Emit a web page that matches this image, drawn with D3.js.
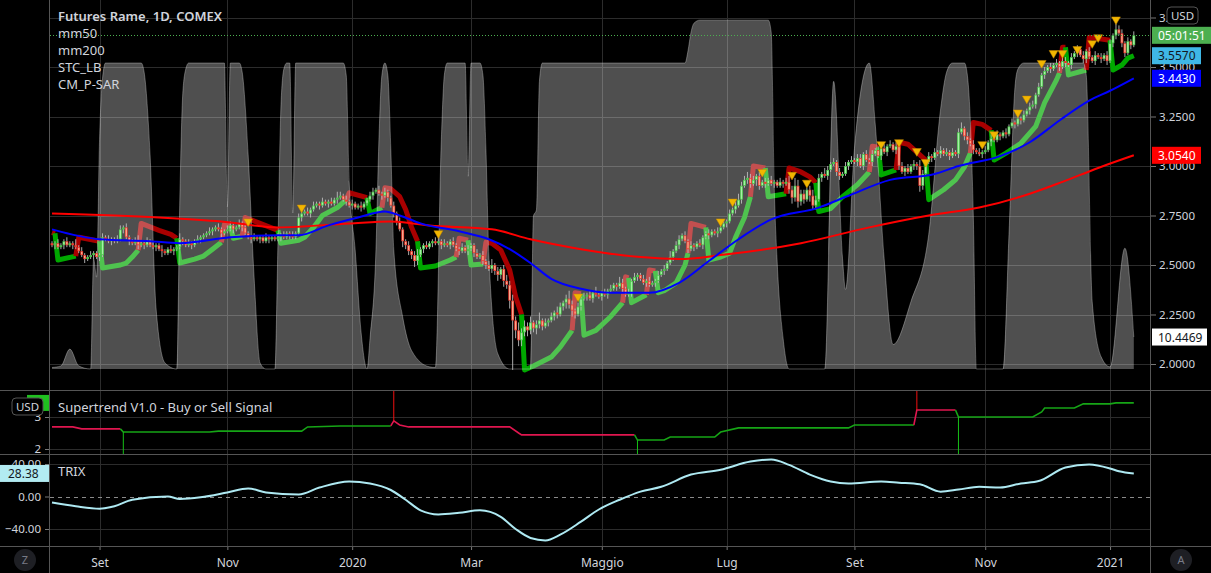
<!DOCTYPE html>
<html lang="it">
<head>
<meta charset="UTF-8">
<title>Futures Rame, 1D, COMEX</title>
<script src="https://cdn.jsdelivr.net/npm/d3@7"></script>
<style>
  html, body { margin: 0; background: #000; overflow: hidden; }
  svg text { font-family: "Noto Sans", sans-serif; }
</style>
</head>
<body>
<div id="chart"></div>
<script>
// ---- daily closes (bar 0 = mid Aug 2019 ... bar 364 = mid Jan 2021)
const firstOpen = 2.61;
const closes = [
  2.60,2.61,2.59,2.60,2.62,2.60,2.61,2.60,2.59,2.57,
  2.55,2.53,2.54,2.55,2.56,2.54,2.55,2.64,2.63,2.62,
  2.63,2.62,2.63,2.68,2.69,2.64,2.62,2.61,2.62,2.60,
  2.61,2.60,2.62,2.60,2.59,2.60,2.58,2.57,2.56,2.58,
  2.57,2.58,2.59,2.63,2.62,2.60,2.61,2.60,2.62,2.63,
  2.64,2.65,2.66,2.67,2.68,2.69,2.68,2.66,2.67,2.68,
  2.70,2.68,2.69,2.71,2.69,2.66,2.64,2.63,2.64,2.63,
  2.64,2.62,2.64,2.63,2.64,2.63,2.64,2.65,2.64,2.66,
  2.65,2.64,2.66,2.74,2.76,2.77,2.76,2.78,2.80,2.81,
  2.80,2.82,2.81,2.82,2.81,2.83,2.84,2.85,2.83,2.82,
  2.80,2.81,2.79,2.80,2.79,2.81,2.83,2.85,2.87,2.88,
  2.86,2.85,2.87,2.84,2.80,2.76,2.72,2.68,2.62,2.60,
  2.57,2.55,2.52,2.55,2.58,2.60,2.59,2.61,2.62,2.61,
  2.62,2.60,2.61,2.60,2.62,2.60,2.58,2.57,2.59,2.57,
  2.58,2.60,2.56,2.54,2.55,2.52,2.50,2.48,2.50,2.47,
  2.45,2.48,2.42,2.40,2.32,2.22,2.17,2.12,2.16,2.19,
  2.17,2.21,2.18,2.20,2.22,2.19,2.21,2.22,2.24,2.26,
  2.25,2.29,2.31,2.33,2.30,2.27,2.25,2.29,2.33,2.34,
  2.35,2.33,2.36,2.35,2.34,2.36,2.35,2.37,2.38,2.40,
  2.39,2.41,2.38,2.35,2.36,2.42,2.44,2.45,2.43,2.41,
  2.42,2.40,2.41,2.42,2.45,2.47,2.48,2.51,2.54,2.57,
  2.60,2.63,2.65,2.62,2.58,2.60,2.59,2.61,2.60,2.64,
  2.66,2.65,2.67,2.66,2.67,2.69,2.71,2.72,2.76,2.78,
  2.80,2.83,2.90,2.93,2.94,2.91,2.93,2.95,2.90,2.92,
  2.91,2.93,2.91,2.92,2.90,2.92,2.91,2.92,2.88,2.84,
  2.90,2.82,2.86,2.83,2.88,2.85,2.80,2.83,2.94,2.96,
  2.95,2.98,3.01,3.02,2.97,2.95,2.96,3.00,3.02,3.03,
  3.02,3.04,3.00,3.06,3.03,3.02,3.06,3.08,3.05,3.09,
  3.07,3.10,3.11,3.08,3.10,3.00,2.97,2.99,2.97,3.00,
  3.01,3.00,2.90,2.96,3.02,3.05,3.04,3.07,3.06,3.08,
  3.06,3.07,3.05,3.07,3.06,3.17,3.19,3.15,3.13,3.11,
  3.08,3.07,3.06,3.07,3.08,3.12,3.14,3.13,3.16,3.15,
  3.17,3.16,3.20,3.22,3.21,3.24,3.23,3.26,3.28,3.30,
  3.31,3.36,3.40,3.46,3.48,3.50,3.49,3.51,3.52,3.50,
  3.53,3.52,3.51,3.55,3.57,3.59,3.56,3.54,3.58,3.55,
  3.53,3.56,3.55,3.54,3.56,3.53,3.62,3.66,3.69,3.67,
  3.62,3.57,3.63,3.61,3.66
];
// wick lengths above / below the body, in cents
const wickUp = [
  1,1,2,1,1,2,1,1,3,1, 2,1,1,2,1,1,1,2,1,2, 1,1,2,2,1,2,1,1,2,3, 1,1,2,1,2,1,1,2,1,1,
  2,1,1,3,1,1,2,1,1,2, 1,1,1,2,1,1,2,1,1,2, 2,1,1,2,1,2,1,1,2,1, 1,1,2,1,1,1,2,1,2,1,
  1,2,1,2,1,1,2,1,2,1, 1,2,1,1,2,1,3,2,1,2, 1,2,1,1,2,1,1,2,2,1, 2,1,2,1,1,2,1,2,1,1,
  2,1,2,3,1,1,2,1,1,2, 3,1,2,1,1,2,1,1,2,1, 2,1,1,2,1,2,1,2,3,1, 2,1,2,3,2,3,2,4,2,3,
  2,3,1,2,4,1,2,1,2,1, 3,2,1,2,4,2,1,2,1,2, 1,2,1,3,1,1,2,1,2,1, 1,3,2,1,2,1,2,1,1,2,
  1,2,1,1,2,1,2,1,3,1, 2,2,1,2,1,2,1,1,2,1, 1,2,1,1,2,1,2,1,2,1, 2,3,2,2,3,2,2,1,2,1,
  2,1,2,1,1,2,1,2,3,2, 4,3,2,2,1,2,3,2,2,1, 3,2,1,2,1,2,1,2,1,2, 1,2,2,1,2,1,2,1,2,1,
  2,1,2,1,2,3,2,1,2,1, 2,1,3,2,1,2,1,2,1,2, 1,2,1,2,1,2,3,1,2,1, 2,1,2,1,2,1,2,1,2,1,
  1,2,1,2,1,2,1,2,1,2, 2,1,2,1,2,1,2,1,2,1, 2,2,1,2,1,2,1,2,1,2, 1,2,1,2,1,2,2,1,3,2,
  2,1,2,1,2
];
const wickDn = [
  1,2,1,1,2,1,1,2,1,1, 1,2,1,1,2,1,2,1,1,1, 2,1,1,1,2,1,2,1,1,2, 1,2,1,1,1,2,1,3,1,1,
  1,2,1,1,2,1,1,2,1,1, 2,1,1,1,2,1,1,2,1,1, 1,2,1,1,2,1,1,2,1,1, 2,1,1,2,1,1,1,2,1,1,
  2,1,1,1,2,1,1,2,1,1, 2,1,1,2,1,1,2,1,1,2, 1,2,1,1,2,1,1,1,2,1, 1,2,1,2,1,2,2,1,3,2,
  2,2,3,2,1,2,1,1,2,1, 1,2,1,1,2,1,1,2,1,1, 2,1,2,1,1,2,2,1,2,2, 3,2,3,2,4,25,4,3,3,2,
  3,2,2,3,2,2,1,2,1,2, 2,1,2,3,2,3,2,1,2,1, 2,1,2,1,1,2,1,2,1,1, 2,1,2,1,1,2,1,2,1,1,
  2,1,1,2,1,1,2,1,1,2, 1,2,1,1,2,1,2,1,1,2, 1,2,1,1,2,1,1,2,1,1, 2,1,2,1,2,2,1,3,2,1,
  2,1,1,2,1,1,2,1,2,3, 2,3,2,2,1,3,2,2,1,2, 1,2,1,1,2,2,1,1,2,1, 1,2,1,2,1,1,2,1,1,2,
  1,2,1,1,2,2,1,2,1,1, 2,2,3,2,1,1,2,1,1,2, 1,1,2,1,1,2,1,2,2,1, 2,1,1,2,1,1,2,1,1,2,
  1,2,1,1,2,1,2,1,1,2, 1,2,1,1,2,1,2,1,1,2, 1,2,1,2,1,2,1,2,2,1, 1,2,1,2,1,2,1,2,2,1,
  2,2,1,2,1
];

// ---- moving averages (bar index, value)
const m50Idx = [0,16,33,43,60,76,83,93,103,112,117,124,137,147,154,161,168,178,188,201,211,221,231,242,258,268,282,297,305,319,329,339,349,356,364];
const m50Val = [2.68,2.63,2.62,2.61,2.64,2.65,2.65,2.70,2.74,2.77,2.75,2.71,2.67,2.63,2.58,2.51,2.43,2.38,2.36,2.36,2.41,2.52,2.63,2.73,2.79,2.85,2.93,2.96,3.0,3.05,3.12,3.23,3.33,3.38,3.443];
const m200Idx = [0,36,57,76,100,114,127,148,161,178,198,211,225,252,275,295,312,329,340,352,364];
const m200Val = [2.76,2.74,2.72,2.69,2.71,2.72,2.70,2.68,2.63,2.58,2.54,2.53,2.55,2.61,2.69,2.75,2.79,2.86,2.92,2.99,3.054];

// ---- STC_LB
const stcIdx = [0,3,6,9,13,14,15,16,17,18,30,31,33,35,38,42,43,44,45,46,58,59,60,63,64,66,68,70,72,75,76,77,78,79,80,81,82,98,99,100,102,104,106,107,109,110,111,112,113,114,115,118,121,127,129,131,132,133,139,140,141,144,145,146,147,150,154,161,162,163,164,165,213,214,215,216,218,241,242,243,244,246,248,258,260,263,266,267,270,275,277,280,283,289,295,299,301,303,307,308,310,311,320,322,324,325,327,347,348,350,353,356,361,364];
const stcVal = [0.5,1,6.5,1,0,36,30,75,95,100,100,97,70,20,2,0,55,90,98,100,100,53,100,100,97,70,30,2,0,0,40,85,98,100,100,51,100,100,96,61,39,12,0,10,39,75,96,100,96,72,39,17,6,0.7,0.5,75,96,100,100,63,100,100,96,72,37,5,0,0,50,52,94,100,100,104,110,113,114,114,110,60,35,10,0,0,0,94,36,26,72,100,80,36,8,22,44,85,97,100,100,96,50,0,0,44,92,98,100,100,96,22,4,0.7,39.5,10.45];

// ---- CM_P-SAR
const sarIdx = [0,1, 2,8, 9,16, 17,23,25,27,29, 30,36,40,42, 43,48,51,54,57, 58,60, 61,64, 65,70,76,
  77,83,85,88,91,96,99, 100,106, 107,111, 112,114,117,119,121,123, 124,129,134,136, 137,140, 141,145,
  146,148,151,154,156,158, 159,162,168,171,175, 176,178, 179,183,188,192, 193,194, 195,200, 201,203,
  204,206,210,213,214, 215,220, 221,225,228,230,233,235, 236,240, 241,247, 248,252,255,257,
  258,262,266,271,275, 276,278, 279,284, 285,288,291,294, 295,300,304,307,309, 310,313,316,
  317,321,326,331,334,338,339, 340,341, 342,348, 349,356, 357,360,362,364];
const sarVal = [2.665,2.66, 2.525,2.545, 2.64,2.62, 2.485,2.50,2.51,2.54,2.575, 2.71,2.675,2.655,2.635,
  2.51,2.53,2.545,2.58,2.615, 2.705,2.70, 2.635,2.645, 2.74,2.71,2.675,
  2.61,2.625,2.64,2.69,2.75,2.79,2.83, 2.865,2.84, 2.76,2.79, 2.89,2.885,2.845,2.78,2.69,2.62,
  2.485,2.495,2.525,2.54, 2.635,2.625, 2.50,2.505, 2.615,2.61,2.575,2.475,2.34,2.25,
  1.97,1.99,2.035,2.085,2.17, 2.36,2.355, 2.145,2.17,2.24,2.31, 2.44,2.435, 2.31,2.35, 2.475,2.47,
  2.36,2.37,2.41,2.50,2.56, 2.71,2.69, 2.525,2.54,2.56,2.64,2.74,2.845, 3.0,2.99, 2.845,2.86,
  2.99,2.97,2.945,2.915, 2.77,2.785,2.845,2.905,2.97, 3.10,3.095, 2.955,2.98, 3.12,3.11,3.07,3.03,
  2.83,2.88,2.93,2.995,3.065, 3.22,3.21,3.18, 3.03,3.065,3.115,3.20,3.32,3.435,3.47,
  3.60,3.60, 3.46,3.485, 3.65,3.635, 3.485,3.51,3.545,3.557];
const sarTrend = ("rr gg rr ggggg rrrr ggggg rr gg rrr ggggggg rr gg rrrrrr gggg rr gg rrrrrr ggggg rr gggg " +
  "rr gg rr ggggg rr gggggg rr gg rrrr ggggg rr gg rrrr ggggg rrr ggggggg rr gg rr gggg").replace(/ /g, "").split("");

// ---- signal triangles
const triIdx = [66,84,130,177,225,229,239,249,254,279,285,291,294,313,317,325,328,333,337,340,345,350,352,358];
const triPrice = [2.72,2.79,2.66,2.34,2.72,2.82,2.97,2.955,2.915,3.11,3.12,3.075,3.02,3.11,3.16,3.27,3.34,3.52,3.57,3.57,3.59,3.62,3.65,3.74];

// ---- Supertrend
const stIdx = [0,7,10,23, 24,53,56,84,86,97,114, 115,117,120,154,157,158,196,
  197,206,208,223,225,231,268,270,290, 291,304, 305,330,333,334,344,347,356,358,364];
const stVal = [2.69,2.69,2.63,2.63, 2.53,2.53,2.56,2.56,2.69,2.72,2.72, 2.88,2.75,2.69,2.69,2.5,2.44,2.44,
  2.28,2.28,2.375,2.375,2.53,2.66,2.66,2.75,2.75, 3.22,3.22, 3.0,3.0,3.16,3.28,3.28,3.41,3.41,3.44,3.44];
const stTrend = "rrrr ggggggg rrrrrrr ggggggggg rr ggggggggg".replace(/ /g, "").split("");
const sigIdx = [24, 115, 197, 291, 305];
const sigTrend = ["g", "r", "g", "r", "g"];

// ---- TRIX
const trixIdx = [0,8,16,21,27,39,43,50,59,66,72,83,90,100,107,114,119,124,130,137,144,151,156,161,166,171,178,184,191,198,205,215,225,235,242,248,255,262,268,279,285,292,299,305,312,319,326,332,341,349,356,359,364];
const trixVal = [-7.4,-12,-15,-12,-4,0,-3,-1,5,10,5,2.5,11,18.5,16,8,-4,-17,-22,-20,-17,-25,-40,-51,-54,-47,-31,-16,-4,6,12,27,33,43,45.5,39,27,18.5,16,18.5,17,15,6,8.5,12,11,16,19,35.7,39.4,34.5,31,28.38];

// ---- axes / labels
const monthIdx = [16, 59, 101, 141, 185, 227, 270, 314, 356];
const monthLabels = ["Set", "Nov", "2020", "Mar", "Maggio", "Lug", "Set", "Nov", "2021"];
const priceTicks = [2, 2.25, 2.5, 2.75, 3, 3.25, 3.5, 3.75];
const legend = ["Futures Rame, 1D, COMEX", "mm50", "mm200", "STC_LB", "CM_P-SAR"];
const countdown = "05:01:51";
const stcLast = 10.4469;

// ---------------------------------------------------------------
const W = 1211, H = 573, L = 50, R = 1151;
const mainB = [0, 390], stB = [390, 454], trixB = [454, 546];
const txt = "#d1d4dc", gridC = "#2c2c2c", sepC = "#555";

const svg = d3.select("#chart").append("svg")
  .attr("width", W).attr("height", H).style("display", "block").style("background", "#000");

const x = d3.scaleLinear().domain([0, 364]).range([52, 52 + 364 * 2.972]);
const y = d3.scaleLinear().domain([2, 3.75]).range([364, 17.5]);
const yStc = d3.scaleLinear().domain([0, 100]).range([369, 63]);
const ySt = d3.scaleLinear().domain([2, 3]).range([449, 417]);
const yTrix = d3.scaleLinear().domain([-40, 40]).range([529, 464]);

const defs = svg.append("defs");
[["cMain", mainB], ["cSt", stB], ["cTrix", trixB]].forEach(([id, b]) => {
  defs.append("clipPath").attr("id", id).append("rect")
    .attr("x", L).attr("y", b[0]).attr("width", R - L).attr("height", b[1] - b[0]);
});

// grid
const grid = svg.append("g").attr("stroke", gridC).attr("shape-rendering", "crispEdges");
monthIdx.forEach(t => {
  const gx = Math.round(x(t)) + 0.5;
  grid.append("line").attr("x1", gx).attr("x2", gx).attr("y1", 0).attr("y2", trixB[1]);
});
priceTicks.forEach(p => grid.append("line").attr("x1", L).attr("x2", R).attr("y1", Math.round(y(p)) + 0.5).attr("y2", Math.round(y(p)) + 0.5));
[2, 3].forEach(v => grid.append("line").attr("x1", L).attr("x2", R).attr("y1", Math.round(ySt(v)) + 0.5).attr("y2", Math.round(ySt(v)) + 0.5));
[-40, 40].forEach(v => grid.append("line").attr("x1", L).attr("x2", R).attr("y1", Math.round(yTrix(v)) + 0.5).attr("y2", Math.round(yTrix(v)) + 0.5));

// ---- main panel
const main = svg.append("g").attr("clip-path", "url(#cMain)");

// SAR runs (drawn under the STC veil)
const sarPts = sarIdx.map((d, k) => ({ i: d, v: sarVal[k], t: sarTrend[k] }));
const runs = [];
sarPts.forEach((p, k) => {
  if (k === 0 || p.t !== sarPts[k - 1].t) runs.push({ t: p.t, pts: k ? [sarPts[k - 1], p] : [p] });
  else runs[runs.length - 1].pts.push(p);
});
const sarLine = d3.line().x(d => x(d.i)).y(d => y(d.v));
main.selectAll("path.sar").data(runs).join("path")
  .attr("d", d => sarLine(d.pts)).attr("fill", "none")
  .attr("stroke", d => d.t === "g" ? "#00a800" : "#a80000")
  .attr("stroke-width", 5).attr("stroke-linejoin", "round");

// STC area veil
const stcPts = stcIdx.map((d, k) => [d, stcVal[k]]);
main.append("path").datum(stcPts)
  .attr("d", d3.area().x(d => x(d[0])).y0(yStc(0)).y1(d => yStc(d[1])).curve(d3.curveMonotoneX))
  .attr("fill", "rgba(255,255,255,0.31)");
main.append("path").datum(stcPts)
  .attr("d", d3.line().x(d => x(d[0])).y(d => yStc(d[1])).curve(d3.curveMonotoneX))
  .attr("fill", "none").attr("stroke", "rgba(255,255,255,0.3)").attr("stroke-width", 1);

// candles
const candles = closes.map((c, i) => {
  const o = i ? closes[i - 1] : firstOpen;
  return { i, o, c, h: Math.max(o, c) + wickUp[i] / 100, l: Math.min(o, c) - wickDn[i] / 100 };
});
main.append("g").selectAll("line").data(candles).join("line")
  .attr("x1", d => x(d.i)).attr("x2", d => x(d.i))
  .attr("y1", d => y(d.h)).attr("y2", d => y(d.l))
  .attr("stroke", "#bcbcbc").attr("stroke-width", 0.9);
const bodyTop = d => y(Math.max(d.o, d.c));
const bodyH = d => Math.max(1, Math.abs(y(d.o) - y(d.c)));
main.append("g").selectAll("rect").data(candles).join("rect")
  .attr("x", d => x(d.i) - 1.4).attr("width", 2.8)
  .attr("y", bodyTop).attr("height", bodyH)
  .attr("fill", d => d.c >= d.o ? "#4cc44c" : "#ee3a2e");
main.append("g").selectAll("rect").data(candles.filter(d => bodyH(d) > 2.5)).join("rect")
  .attr("x", d => x(d.i) - 0.7).attr("width", 1.4)
  .attr("y", d => bodyTop(d) + 0.8).attr("height", d => bodyH(d) - 1.6)
  .attr("fill", d => d.c >= d.o ? "#a6f0a6" : "#f7a88e");

// moving averages
const maLine = d3.line().x(d => x(d[0])).y(d => y(d[1])).curve(d3.curveMonotoneX);
main.append("path").datum(m200Idx.map((d, k) => [d, m200Val[k]]))
  .attr("d", maLine).attr("fill", "none").attr("stroke", "#ff0000").attr("stroke-width", 2);
main.append("path").datum(m50Idx.map((d, k) => [d, m50Val[k]]))
  .attr("d", maLine).attr("fill", "none").attr("stroke", "#0000ff").attr("stroke-width", 2);

// triangles
main.append("g").selectAll("path").data(triIdx.map((d, k) => [d, triPrice[k]])).join("path")
  .attr("d", d3.symbol(d3.symbolTriangle, 34))
  .attr("transform", d => `translate(${x(d[0])},${y(d[1])}) rotate(180)`)
  .attr("fill", "#f2b600").attr("stroke", "#c88a00").attr("stroke-width", 0.5);

// last price dotted line
const lastClose = closes[closes.length - 1];
svg.append("line").attr("x1", L).attr("x2", R).attr("y1", Math.round(y(lastClose)) + 0.5).attr("y2", Math.round(y(lastClose)) + 0.5)
  .attr("stroke", "#4caf50").attr("stroke-dasharray", "1,2");

// legend
svg.append("g").selectAll("text").data(legend).join("text")
  .attr("x", 58).attr("y", (d, k) => 21 + k * 17)
  .attr("fill", txt).attr("font-size", 13)
  .attr("font-weight", (d, k) => k === 0 ? 600 : 400)
  .text(d => d);

// ---- supertrend panel
const stG = svg.append("g").attr("clip-path", "url(#cSt)");
const stPts = stIdx.map((d, k) => ({ i: d, v: stVal[k], t: stTrend[k] }));
const stRuns = [];
stPts.forEach((p, k) => {
  if (k === 0 || p.t !== stPts[k - 1].t) stRuns.push({ t: p.t, pts: k ? [stPts[k - 1], p] : [p] });
  else stRuns[stRuns.length - 1].pts.push(p);
});
const stLine = d3.line().x(d => x(d.i)).y(d => ySt(d.v));
stG.selectAll("path").data(stRuns).join("path")
  .attr("d", d => stLine(d.pts)).attr("fill", "none")
  .attr("stroke", d => d.t === "g" ? "#16a516" : "#e0164f").attr("stroke-width", 1.6);
sigIdx.forEach((s, k) => {
  const v = stVal[stIdx.indexOf(s)];
  const g = sigTrend[k] === "g";
  stG.append("line").attr("x1", x(s)).attr("x2", x(s))
    .attr("y1", ySt(v)).attr("y2", g ? stB[1] : stB[0])
    .attr("stroke", g ? "#16c016" : "#f01010").attr("stroke-width", 1);
});
svg.append("text").attr("x", 58).attr("y", 412).attr("fill", txt).attr("font-size", 13)
  .text("Supertrend V1.0 - Buy or Sell Signal");

// ---- TRIX panel
const trG = svg.append("g").attr("clip-path", "url(#cTrix)");
trG.append("line").attr("x1", L).attr("x2", R).attr("y1", Math.round(yTrix(0)) + 0.5).attr("y2", Math.round(yTrix(0)) + 0.5)
  .attr("stroke", "#8a8a8a").attr("stroke-dasharray", "4,4");
trG.append("path").datum(trixIdx.map((d, k) => [d, trixVal[k]]))
  .attr("d", d3.line().x(d => x(d[0])).y(d => yTrix(d[1])).curve(d3.curveMonotoneX))
  .attr("fill", "none").attr("stroke", "#aee9f2").attr("stroke-width", 2);
svg.append("text").attr("x", 58).attr("y", 476).attr("fill", txt).attr("font-size", 13).text("TRIX");

// ---- axes
function styleAxis(g, size) {
  g.select(".domain").remove();
  g.selectAll(".tick line").attr("stroke", "#777");
  g.selectAll(".tick text").attr("fill", txt).attr("font-size", size).attr("font-family", "Noto Sans, sans-serif");
}
svg.append("g").attr("transform", `translate(${R},0)`)
  .call(d3.axisRight(y).tickValues(priceTicks).tickFormat(d3.format(".4f")).tickSize(5).tickPadding(3))
  .call(g => styleAxis(g, 11.5));
svg.append("g").attr("transform", `translate(${L},0)`)
  .call(d3.axisLeft(ySt).tickValues([2, 3]).tickFormat(d3.format("d")).tickSize(5).tickPadding(4))
  .call(g => styleAxis(g, 11.5));
svg.append("g").attr("transform", `translate(${L},0)`)
  .call(d3.axisLeft(yTrix).tickValues([-40, 0, 40]).tickFormat(d3.format(".2f")).tickSize(5).tickPadding(4))
  .call(g => styleAxis(g, 11.5));
svg.append("g").attr("transform", `translate(0,${trixB[1]})`)
  .call(d3.axisBottom(x).tickValues(monthIdx).tickFormat((d, k) => monthLabels[k]).tickSize(4).tickPadding(8))
  .call(g => styleAxis(g, 12));

// separators
const sep = svg.append("g").attr("stroke", sepC).attr("shape-rendering", "crispEdges");
[mainB[1], stB[1], trixB[1]].forEach(v => sep.append("line").attr("x1", 0).attr("x2", W).attr("y1", v + 0.5).attr("y2", v + 0.5));
[L, R].forEach(v => sep.append("line").attr("x1", v - 0.5).attr("x2", v - 0.5).attr("y1", 0).attr("y2", H));

// ---- price badges
function badge(x0, w, yc, fill, label, color) {
  const g = svg.append("g");
  g.append("rect").attr("x", x0).attr("y", yc - 8.5).attr("width", w).attr("height", 17).attr("fill", fill);
  g.append("text").attr("x", x0 + 6).attr("y", yc + 4.5).attr("fill", color).attr("font-size", 12).text(label);
}
const sarLast = sarVal[sarVal.length - 1], m50Last = m50Val[m50Val.length - 1], m200Last = m200Val[m200Val.length - 1];
badge(R + 1, W - R - 1, y(lastClose), "#4caf50", countdown, "#fff");
badge(R + 1, 49, y(sarLast), "#3fb7e6", d3.format(".4f")(sarLast), "#131722");
badge(R + 1, 49, y(m50Last), "#0000ff", d3.format(".4f")(m50Last), "#fff");
badge(R + 1, 49, y(m200Last), "#ff0000", d3.format(".4f")(m200Last), "#fff");
badge(R + 1, 55, yStc(stcLast), "#ffffff", d3.format(".4f")(stcLast), "#131722");

// left badges
const stLast = stVal[stVal.length - 1], trixLast = trixVal[trixVal.length - 1];
svg.append("rect").attr("x", 27).attr("y", ySt(stLast) - 8).attr("width", 22).attr("height", 16).attr("fill", "#1fc01f");
svg.append("text").attr("x", 36).attr("y", ySt(stLast) + 4).attr("fill", "#fff").attr("font-size", 12).text("3");
svg.append("rect").attr("x", 0).attr("y", yTrix(trixLast) - 8.5).attr("width", 49).attr("height", 17).attr("fill", "#b2ebf2");
svg.append("text").attr("x", 8).attr("y", yTrix(trixLast) + 4.5).attr("fill", "#131722").attr("font-size", 12).text(d3.format(".2f")(trixLast));

// USD badges
function usd(x0, y0) {
  svg.append("rect").attr("x", x0).attr("y", y0).attr("width", 31).attr("height", 17).attr("rx", 4)
    .attr("fill", "#000").attr("stroke", "#555");
  svg.append("text").attr("x", x0 + 15.5).attr("y", y0 + 12.5).attr("text-anchor", "middle")
    .attr("fill", txt).attr("font-size", 11.5).text("USD");
}
usd(1167, 7);
usd(12, 398);

// corner buttons
[["Z", 25], ["A", 1181]].forEach(([t, cx]) => {
  svg.append("circle").attr("cx", cx).attr("cy", 560).attr("r", 11).attr("fill", "#1e1f24");
  svg.append("text").attr("x", cx).attr("y", 564).attr("text-anchor", "middle").attr("fill", "#787b86").attr("font-size", 11).text(t);
});
</script>
</body>
</html>
